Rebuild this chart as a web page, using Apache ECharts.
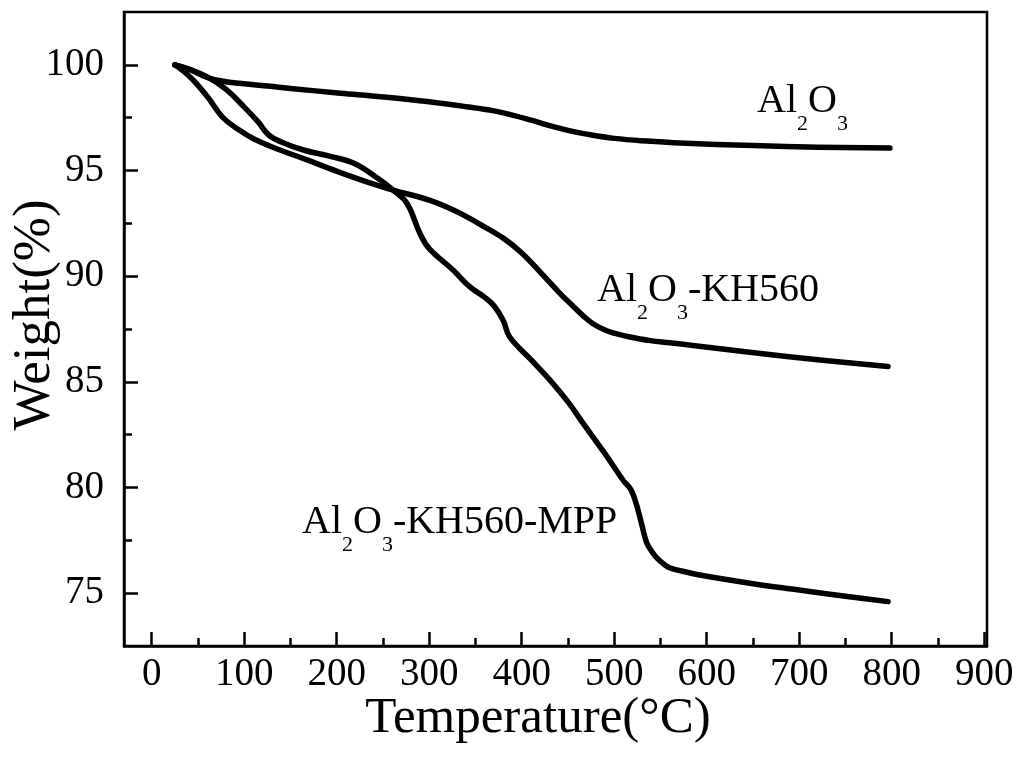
<!DOCTYPE html>
<html>
<head>
<meta charset="utf-8">
<script src="https://cdn.jsdelivr.net/npm/echarts@6.0.0/dist/echarts.min.js"></script>
<style>html,body{margin:0;padding:0;background:#fff}#c{width:1022px;height:763px}</style>
</head>
<body>
<div id="c"></div>
<script>
// ---- data ----
var al2o3T = [25, 40, 60, 80, 100, 131, 150, 204, 250, 300, 340, 370, 390, 410, 430, 450, 470, 500, 540, 571, 650, 720, 798];
var al2o3W = [100, 99.8, 99.4, 99.2, 99.1, 98.97, 98.88, 98.66, 98.48, 98.25, 98.02, 97.82, 97.62, 97.38, 97.12, 96.9, 96.72, 96.52, 96.38, 96.3, 96.18, 96.1, 96.06];

var kh560T = [25, 42, 60, 77, 95, 110, 131, 168, 204, 230, 261, 300, 330, 355, 380, 400, 423, 441, 455, 467, 477, 490, 500, 514, 539, 560, 585, 658, 720, 796];
var kh560W = [100, 99.4, 98.5, 97.5, 96.9, 96.5, 96.1, 95.5, 94.9, 94.5, 94.07, 93.6, 93.05, 92.45, 91.8, 91.1, 90.05, 89.2, 88.6, 88.1, 87.75, 87.45, 87.3, 87.15, 86.95, 86.85, 86.72, 86.34, 86.05, 85.73];

var mppT = [25, 40, 60, 80, 100, 115, 126, 140, 164, 190, 218, 247, 261, 276, 290, 300, 326, 344, 360, 370, 380, 387, 410, 431, 450, 467, 490, 510, 518, 524, 530, 535, 541, 546, 553, 560, 580, 600, 650, 700, 750, 796];
var mppW = [100, 99.8, 99.43, 98.85, 98.0, 97.3, 96.7, 96.35, 95.97, 95.7, 95.35, 94.55, 94.07, 93.44, 92.02, 91.3, 90.28, 89.49, 89.0, 88.6, 87.9, 87.12, 86.05, 85.06, 84.05, 83.0, 81.6, 80.32, 79.9, 79.2, 78.2, 77.4, 76.95, 76.67, 76.4, 76.2, 75.98, 75.8, 75.45, 75.15, 74.85, 74.6];

var xTicks = [0, 100, 200, 300, 400, 500, 600, 700, 800, 900];
var xMinorTicks = [50, 150, 250, 350, 450, 550, 650, 750, 850];
var yTicks = [75, 80, 85, 90, 95, 100];
var yMinorTicks = [77.5, 82.5, 87.5, 92.5, 97.5];

function pairs(t, w) { return t.map(function (v, i) { return [v, w[i]]; }); }

var FONT = '"Liberation Serif", "Times New Roman", serif';
var chart = echarts.init(document.getElementById('c'), null, {renderer: 'canvas'});

var richSub = {
  n: {fontFamily: FONT, fontSize: 40, color: '#000'},
  s: {fontFamily: FONT, fontSize: 22, color: '#000', padding: [46, 0, 0, 0]}
};

function lineSeries(name, data) {
  return {
    name: name, type: 'line', data: data, xAxisIndex: 0, yAxisIndex: 0,
    showSymbol: false, symbol: 'none', smooth: 0.4,
    lineStyle: {color: '#000', width: 5.5, cap: 'round', join: 'round'},
    itemStyle: {color: '#000'}, silent: true, animation: false
  };
}

chart.setOption({
  animation: false,
  backgroundColor: '#fff',
  grid: {left: 124, right: 35, top: 12, bottom: 117, show: true, borderColor: '#000', borderWidth: 2.5, backgroundColor: 'transparent'},
  xAxis: [{
    type: 'value', min: -30, max: 903, position: 'bottom',
    axisLine: {show: true, onZero: false, lineStyle: {color: '#000', width: 2.5}},
    axisTick: {show: true, inside: true, length: 14, lineStyle: {color: '#000', width: 2.5}, customValues: xTicks},
    axisLabel: {show: true, customValues: xTicks, fontFamily: FONT, fontSize: 39, color: '#000', margin: 9},
    splitLine: {show: false}
  }, {
    type: 'value', min: -30, max: 903, position: 'bottom',
    axisLine: {show: false, onZero: false},
    axisTick: {show: true, inside: true, length: 8, lineStyle: {color: '#000', width: 2.5}, customValues: xMinorTicks},
    axisLabel: {show: false},
    splitLine: {show: false}
  }],
  yAxis: [{
    type: 'value', min: 72.5, max: 102.5, position: 'left',
    axisLine: {show: true, onZero: false, lineStyle: {color: '#000', width: 2.5}},
    axisTick: {show: true, inside: true, length: 14, lineStyle: {color: '#000', width: 2.5}, customValues: yTicks},
    axisLabel: {show: true, customValues: yTicks, fontFamily: FONT, fontSize: 39, color: '#000', margin: 20},
    splitLine: {show: false}
  }, {
    type: 'value', min: 72.5, max: 102.5, position: 'left',
    axisLine: {show: false, onZero: false},
    axisTick: {show: true, inside: true, length: 8, lineStyle: {color: '#000', width: 2.5}, customValues: yMinorTicks},
    axisLabel: {show: false},
    splitLine: {show: false}
  }],
  series: [
    lineSeries('Al2O3', pairs(al2o3T, al2o3W)),
    lineSeries('Al2O3-KH560', pairs(kh560T, kh560W)),
    lineSeries('Al2O3-KH560-MPP', pairs(mppT, mppW))
  ],
  graphic: [
    {type: 'text', x: 538, y: 719, style: {text: 'Temperature(°C)', font: '51px ' + FONT, fill: '#000', align: 'center', verticalAlign: 'middle'}},
    {type: 'text', x: 35, y: 315, rotation: Math.PI / 2, style: {text: 'Weight(%)', font: '53px ' + FONT, fill: '#000', align: 'center', verticalAlign: 'middle'}},
    {type: 'text', x: 757, y: 101, style: {text: '{n|Al}{s|2}{n|O}{s|3}', rich: richSub, align: 'left', verticalAlign: 'middle'}},
    {type: 'text', x: 597, y: 290, style: {text: '{n|Al}{s|2}{n|O}{s|3}{n|-KH560}', rich: richSub, align: 'left', verticalAlign: 'middle'}},
    {type: 'text', x: 302, y: 522, style: {text: '{n|Al}{s|2}{n|O}{s|3}{n|-KH560-MPP}', rich: richSub, align: 'left', verticalAlign: 'middle'}}
  ]
});
</script>
</body>
</html>
